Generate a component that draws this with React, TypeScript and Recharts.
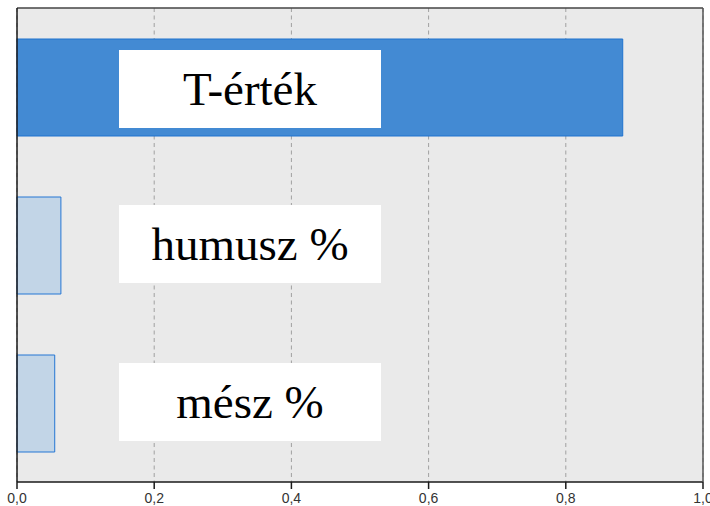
import React from 'react';
import { BarChart, Bar, XAxis, YAxis, CartesianGrid, Cell, LabelList } from 'recharts';

const categories = ['T-érték', 'humusz %', 'mész %'];
const values = [0.883, 0.064, 0.055];
const xTicks = [0, 0.2, 0.4, 0.6, 0.8, 1.0];
const fills = ['#438AD3', '#C2D5E7', '#C2D5E7'];
const strokes = ['#1F72CF', '#2577D4', '#2577D4'];
const boxShift = [1.5, -1.5, -1.5];

const data = categories.map((name, i) => ({ name, value: values[i] }));

const BoxLabel = (props: any) => {
  const { x, y, height, index } = props;
  const cy = y + height / 2 + boxShift[index];
  const bx = x + 102;
  const bw = 262;
  const bh = 78;
  return (
    <g>
      <rect x={bx} y={cy - bh / 2} width={bw} height={bh} fill="#FFFFFF" />
      <text
        x={bx + bw / 2}
        y={cy}
        textAnchor="middle"
        dominantBaseline="central"
        fontFamily="'Liberation Serif', 'Times New Roman', serif"
        fontSize={47}
        fill="#000"
      >
        {categories[index]}
      </text>
    </g>
  );
};

export default function App() {
  return (
    <div style={{ position: 'absolute', left: 0, top: 0 }}>
      <BarChart
        width={710}
        height={506}
        data={data}
        layout="vertical"
        margin={{ top: 7, right: 6, bottom: 0, left: 16 }}
      >
        <CartesianGrid
          horizontal={false}
          vertical={true}
          stroke="#A0A0A0"
          strokeDasharray="4 3.5"
          fill="#EAEAEA"
        />
        <XAxis
          type="number"
          domain={[0, 1]}
          ticks={xTicks}
          interval={0}
          height={24}
          tickSize={7}
          tickMargin={4}
          tickFormatter={(v: number) => v.toFixed(1).replace('.', ',')}
          axisLine={{ stroke: '#1a1a1a', strokeWidth: 1.5 }}
          tickLine={{ stroke: '#1a1a1a', strokeWidth: 1.5 }}
          tick={{ fill: '#333', fontSize: 14, fontFamily: "'Liberation Sans', Arial, sans-serif" }}
        />
        <XAxis
          xAxisId="top"
          orientation="top"
          type="number"
          domain={[0, 1]}
          height={1}
          tick={false}
          tickLine={false}
          axisLine={{ stroke: '#444', strokeWidth: 1.5 }}
        />
        <YAxis
          type="category"
          dataKey="name"
          width={1}
          tick={false}
          tickLine={false}
          axisLine={{ stroke: '#1a1a1a', strokeWidth: 1.5 }}
        />
        <YAxis
          yAxisId="right"
          orientation="right"
          type="category"
          dataKey="name"
          width={1}
          tick={false}
          tickLine={false}
          axisLine={{ stroke: '#555', strokeWidth: 1.5 }}
        />
        <Bar dataKey="value" barSize={97} isAnimationActive={false}>
          {data.map((d, i) => (
            <Cell key={d.name} fill={fills[i]} stroke={strokes[i]} strokeWidth={1} />
          ))}
          <LabelList dataKey="value" content={BoxLabel} />
        </Bar>
      </BarChart>
    </div>
  );
}
